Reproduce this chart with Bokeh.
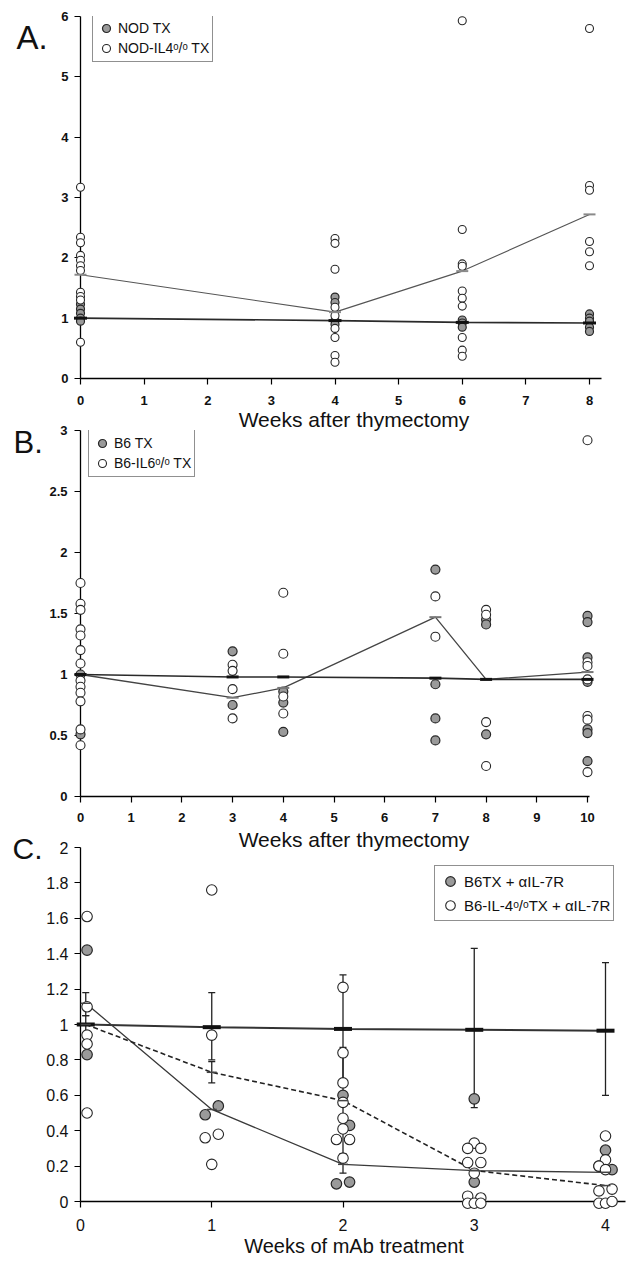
from bokeh.plotting import figure
from bokeh.layouts import column
from bokeh.models import (ColumnDataSource, Range1d, FixedTicker, Legend, LegendItem,
                          Whisker, TeeHead)
from bokeh.core.properties import value
from bokeh.embed import file_html
from bokeh.resources import INLINE

FONT = "Liberation Sans"
KO = "\u1d52/\u1d52"

# ---------------- Panel A data ----------------
a_xticks = [0, 1, 2, 3, 4, 5, 6, 7, 8]
a_xtick_labels = ["0", "1", "2", "3", "4", "5", "6", "7", "8"]
a_yticks = [0, 1, 2, 3, 4, 5, 6]
a_ytick_labels = ["0", "1", "2", "3", "4", "5", "6"]
a_wt_x = [0, 0, 0, 0, 0, 4, 4, 4, 4, 6, 6, 6, 8, 8, 8, 8, 8]
a_wt_y = [1.23, 1.15, 1.08, 1.0, 0.95, 1.35, 1.26, 0.96, 0.9, 0.97, 0.92, 0.85,
          1.07, 1.0, 0.95, 0.85, 0.78]
a_ko_x = [0] * 11 + [4] * 9 + [6] * 10 + [8] * 6
a_ko_y = [3.17, 2.34, 2.25, 2.04, 1.96, 1.87, 1.79, 1.43, 1.36, 1.3, 0.6,
          2.32, 2.24, 1.81, 1.18, 1.04, 0.83, 0.68, 0.38, 0.27,
          5.93, 2.47, 1.9, 1.86, 1.45, 1.33, 1.2, 0.68, 0.47, 0.37,
          5.8, 3.2, 3.12, 2.27, 2.1, 1.87]
a_mean_x = [0, 4, 6, 8]
a_wt_mean = [1.0, 0.96, 0.93, 0.92]
a_ko_mean = [1.72, 1.1, 1.78, 2.72]

# ---------------- Panel B data ----------------
b_xticks = [0, 1, 2, 3, 4, 5, 6, 7, 8, 9, 10]
b_xtick_labels = ["0", "1", "2", "3", "4", "5", "6", "7", "8", "9", "10"]
b_yticks = [0, 0.5, 1, 1.5, 2, 2.5, 3]
b_ytick_labels = ["0", "0.5", "1", "1.5", "2", "2.5", "3"]
b_wt_x = [0, 0, 3, 3, 4, 4, 4, 7, 7, 7, 7, 8, 8, 8, 10, 10, 10, 10, 10, 10, 10]
b_wt_y = [1.0, 0.51, 1.19, 0.75, 0.86, 0.77, 0.53, 1.86, 0.92, 0.64, 0.46,
          1.45, 1.41, 0.51, 1.48, 1.43, 1.14, 0.94, 0.55, 0.52, 0.29]
b_ko_x = [0] * 13 + [3] * 4 + [4] * 4 + [7] * 2 + [8] * 4 + [10] * 7
b_ko_y = [1.75, 1.58, 1.53, 1.37, 1.32, 1.2, 1.09, 0.95, 0.9, 0.85, 0.78, 0.55, 0.42,
          1.08, 1.03, 0.88, 0.64,
          1.67, 1.17, 0.82, 0.68,
          1.64, 1.31,
          1.53, 1.49, 0.61, 0.25,
          2.92, 1.1, 1.07, 0.96, 0.66, 0.63, 0.2]
b_mean_x = [0, 3, 4, 7, 8, 10]
b_wt_mean = [1.0, 0.98, 0.98, 0.97, 0.96, 0.96]
b_ko_mean = [1.0, 0.81, 0.89, 1.47, 0.96, 1.02]

# ---------------- Panel C data ----------------
c_xticks = [0, 1, 2, 3, 4]
c_xtick_labels = ["0", "1", "2", "3", "4"]
c_yticks = [0, 0.2, 0.4, 0.6, 0.8, 1, 1.2, 1.4, 1.6, 1.8, 2]
c_ytick_labels = ["0", "0.2", "0.4", "0.6", "0.8", "1", "1.2", "1.4", "1.6", "1.8", "2"]
c_wt_x = [0.05, 0.05, 0.95, 1.05, 2.0, 2.05, 1.95, 2.05, 3.0, 3.0, 4.0, 3.95, 4.05]
c_wt_y = [1.42, 0.83, 0.49, 0.54, 0.60, 0.43, 0.10, 0.11, 0.58, 0.11, 0.29, 0.20, 0.18]
c_ko_x = [0.05, 0.05, 0.05, 0.05, 0.05,
          1.0, 1.0, 0.95, 1.05, 1.0,
          2.0, 2.0, 2.0, 2.0, 2.0, 2.0, 1.95, 2.05, 2.0,
          3.0, 2.95, 3.05, 2.95, 3.05, 3.0, 2.95, 3.05, 2.95, 3.0, 3.05,
          4.0, 4.0, 3.95, 4.0, 3.95, 4.05, 3.95, 4.0, 4.05]
c_ko_y = [1.61, 1.10, 0.94, 0.89, 0.50,
          1.76, 0.94, 0.36, 0.38, 0.21,
          1.21, 0.84, 0.67, 0.56, 0.47, 0.41, 0.35, 0.35, 0.245,
          0.33, 0.30, 0.30, 0.22, 0.22, 0.16, 0.03, 0.02, -0.01, -0.01, -0.01,
          0.37, 0.235, 0.20, 0.18, 0.06, 0.07, -0.01, -0.01, 0.0]
c_mean_x = [0.04, 1, 2, 3, 4]
c_ctrl_mean = [1.0, 0.985, 0.975, 0.97, 0.965]
c_ctrl_lo = [0.95, 0.80, 0.67, 0.53, 0.60]
c_ctrl_hi = [1.05, 1.18, 1.28, 1.43, 1.35]
c_wt_mean = [1.12, 0.52, 0.21, 0.175, 0.165]
c_ko_mean = [1.0, 0.73, 0.57, 0.175, 0.09]
c_wt_err_x = [0.04, 2]
c_wt_err_lo = [1.05, 0.16]
c_wt_err_hi = [1.18, 0.26]
c_ko_err_x = [1, 2]
c_ko_err_lo = [0.67, 0.27]
c_ko_err_hi = [0.79, 0.87]

# ---------------- layout (page pixels; Bokeh's page has no body margin) ----------------
# Bokeh aligns the frames of plots in a column, so all three share one frame box
FIG_W = 627
FRAME_L = 80
FRAME_R = 627


def make_panel(fig_top, x_tick_last, x_tick_last_px, axis_end_px,
               frame_top, frame_bottom, mbb, y_top_val, margin_top):
    ppx = (x_tick_last_px - FRAME_L) / x_tick_last
    ppy = (frame_bottom - frame_top) / y_top_val
    x_end = (FRAME_R - FRAME_L) / ppx
    mbt = frame_top - fig_top
    height = mbt + (frame_bottom - frame_top) + mbb
    p = figure(width=FIG_W, height=height,
               x_range=Range1d(0, x_end), y_range=Range1d(0, y_top_val),
               output_backend="svg", toolbar_location=None,
               min_border_left=FRAME_L, min_border_right=FIG_W - FRAME_R,
               min_border_top=mbt, min_border_bottom=mbb,
               margin=(margin_top, 0, 0, 0))
    p.xgrid.visible = False
    p.ygrid.visible = False
    p.outline_line_color = None
    p.background_fill_color = None
    p.border_fill_color = None
    p.xaxis[0].bounds = (0, (axis_end_px - FRAME_L) / ppx)
    geom = dict(ppx=ppx, ppy=ppy, x0=FRAME_L, fb=frame_bottom, bottom=fig_top + height)
    return p, geom


def style_axes(p, xticks, xlabels, yticks, ylabels, fsize, fstyle, x_std, y_std,
               title, tsize, t_std):
    for ax in (p.xaxis[0], p.yaxis[0]):
        ax.axis_line_color = "black"
        ax.axis_line_width = 1.3
        ax.major_tick_line_color = "black"
        ax.major_tick_line_width = 1.2
        ax.major_tick_in = 0
        ax.major_tick_out = 6
        ax.minor_tick_line_color = None
        ax.major_label_text_font = FONT
        ax.major_label_text_font_size = fsize
        ax.major_label_text_font_style = fstyle
        ax.major_label_text_color = "#111111"
    xa, ya = p.xaxis[0], p.yaxis[0]
    xa.ticker = FixedTicker(ticks=xticks)
    xa.major_label_overrides = {t: l for t, l in zip(xticks, xlabels)}
    ya.ticker = FixedTicker(ticks=yticks)
    ya.major_label_overrides = {t: l for t, l in zip(yticks, ylabels)}
    xa.major_label_standoff = x_std
    ya.major_label_standoff = y_std
    xa.axis_label = title
    xa.axis_label_text_font = FONT
    xa.axis_label_text_font_size = tsize
    xa.axis_label_text_font_style = "normal"
    xa.axis_label_text_color = "#111111"
    xa.axis_label_standoff = t_std


def panel_letter(p, g, text, left_px, baseline_px, size):
    r = p.text(x=[(left_px - g["x0"]) / g["ppx"]], y=[(g["fb"] - baseline_px) / g["ppy"]],
               text=[text], text_font=value(FONT), text_font_size=value(size),
               text_baseline="alphabetic", text_align="left", text_color="#111111")
    r.level = "annotation"


def pts(p, xs, ys, filled, size):
    if filled:
        r = p.scatter(xs, ys, marker="circle", size=size, fill_color="#9a9a9a",
                      line_color="#262626", line_width=1.2)
    else:
        r = p.scatter(xs, ys, marker="circle", size=size, fill_color="white",
                      line_color="#262626", line_width=1.1)
    r.level = "annotation"
    return r


def means(p, xs, ys, color, size, width):
    r = p.scatter(xs, ys, marker="dash", size=size, line_color=color, line_width=width)
    r.level = "annotation"
    return r


def make_legend(p, items, box_left_px, box_bottom_px, g, fsize, glyph):
    leg = Legend(items=[LegendItem(label=l, renderers=[r]) for l, r in items],
                 location=(box_left_px - FRAME_L, g["fb"] - box_bottom_px),
                 margin=0, padding=3, spacing=0, label_standoff=2,
                 glyph_width=glyph, glyph_height=glyph,
                 border_line_color="#222222", border_line_width=1.2,
                 background_fill_color="white", background_fill_alpha=1.0,
                 label_text_font=FONT, label_text_font_size=fsize,
                 label_text_color="#111111", label_height=glyph)
    p.add_layout(leg)


# ================= Panel A =================
pA, gA = make_panel(fig_top=0, x_tick_last=8, x_tick_last_px=589, axis_end_px=601,
                    frame_top=16, frame_bottom=378, mbb=58, y_top_val=6, margin_top=0)
style_axes(pA, a_xticks, a_xtick_labels, a_yticks, a_ytick_labels, "13px", "bold", 11, 6,
           "Weeks after thymectomy", "21px", 0)
pA.line(a_mean_x, a_ko_mean, line_color="#555555", line_width=1.1)
pA.line(a_mean_x, a_wt_mean, line_color="#2a2a2a", line_width=1.6)
rA_wt = pts(pA, a_wt_x, a_wt_y, True, 8)
rA_ko = pts(pA, a_ko_x, a_ko_y, False, 8)
means(pA, a_mean_x, a_ko_mean, "#8a8a8a", 12, 2)
means(pA, a_mean_x, a_wt_mean, "#111111", 13, 3)
make_legend(pA, [("NOD TX", rA_wt), ("NOD-IL4" + KO + " TX", rA_ko)], 92, 62, gA, "14px", 20)
panel_letter(pA, gA, "A.", 16, 37, "33px")

# ================= Panel B =================
B_TOP = 418
pB, gB = make_panel(fig_top=B_TOP, x_tick_last=10, x_tick_last_px=587, axis_end_px=589,
                    frame_top=430, frame_bottom=796, mbb=60, y_top_val=3,
                    margin_top=B_TOP - gA["bottom"])
style_axes(pB, b_xticks, b_xtick_labels, b_yticks, b_ytick_labels, "13px", "bold", 10, 7,
           "Weeks after thymectomy", "21px", 3)
pB.line(b_mean_x, b_ko_mean, line_color="#444444", line_width=1.3)
pB.line(b_mean_x, b_wt_mean, line_color="#2a2a2a", line_width=1.6)
rB_wt = pts(pB, b_wt_x, b_wt_y, True, 9)
rB_ko = pts(pB, b_ko_x, b_ko_y, False, 9)
means(pB, b_mean_x, b_ko_mean, "#777777", 12, 2)
means(pB, b_mean_x, b_wt_mean, "#111111", 12, 3)
make_legend(pB, [("B6 TX", rB_wt), ("B6-IL6" + KO + " TX", rB_ko)], 88, 477, gB, "14px", 20)
panel_letter(pB, gB, "B.", 13, 442, "31px")

# ================= Panel C =================
C_TOP = 822
pC, gC = make_panel(fig_top=C_TOP, x_tick_last=4, x_tick_last_px=605, axis_end_px=625,
                    frame_top=847, frame_bottom=1201, mbb=59, y_top_val=2,
                    margin_top=C_TOP - gB["bottom"])
style_axes(pC, c_xticks, c_xtick_labels, c_yticks, c_ytick_labels, "16px", "normal", 11, 6,
           "Weeks of mAb treatment", "20px", 1)
pC.line(c_mean_x, c_ctrl_mean, line_color="#333333", line_width=2)
pC.line(c_mean_x, c_wt_mean, line_color="#3a3a3a", line_width=1.3)
pC.line(c_mean_x, c_ko_mean, line_color="#222222", line_width=1.6, line_dash="5 3")

for xs, lo, hi in ((c_mean_x, c_ctrl_lo, c_ctrl_hi),
                   (c_wt_err_x, c_wt_err_lo, c_wt_err_hi),
                   (c_ko_err_x, c_ko_err_lo, c_ko_err_hi)):
    src = ColumnDataSource(dict(x=xs, lo=lo, hi=hi))
    pC.add_layout(Whisker(source=src, base="x", lower="lo", upper="hi", dimension="height",
                          line_color="#222222", line_width=1.3,
                          upper_head=TeeHead(size=7, line_color="#222222", line_width=1.3),
                          lower_head=TeeHead(size=7, line_color="#222222", line_width=1.3)))

rC_wt = pts(pC, c_wt_x, c_wt_y, True, 10.5)
rC_ko = pts(pC, c_ko_x, c_ko_y, False, 10.5)
means(pC, c_mean_x, c_ctrl_mean, "#111111", 18, 4)
means(pC, c_mean_x, c_wt_mean, "#444444", 10, 1.5)
means(pC, c_mean_x, c_ko_mean, "#444444", 10, 1.5)
make_legend(pC, [("B6TX + \u03b1IL-7R", rC_wt), ("B6-IL-4" + KO + "TX + \u03b1IL-7R", rC_ko)],
            434, 921, gC, "15px", 24)
panel_letter(pC, gC, "C.", 12, 848, "30px")

layout = column(pA, pB, pC, spacing=0)
open("out.html", "w").write(file_html(layout, INLINE))
